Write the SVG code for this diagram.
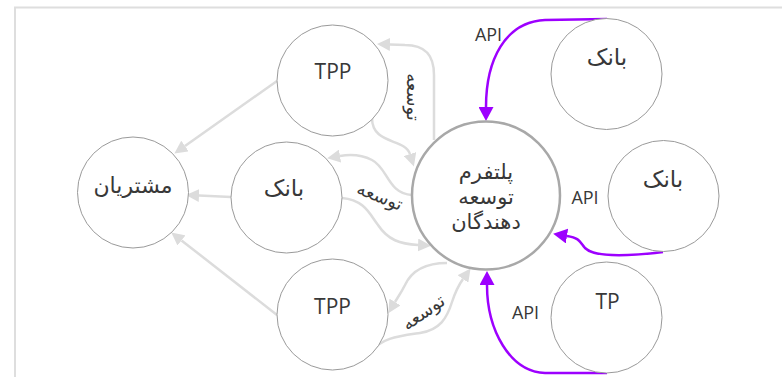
<svg xmlns="http://www.w3.org/2000/svg" width="782" height="377" viewBox="0 0 782 377">
  <style>
    .node { fill: #fff; stroke: #9a9a9a; stroke-width: 1; }
    .hub { fill: #fff; stroke: #a8a8a8; stroke-width: 2.5; }
    .lbl { font-family: "Open Sans", "Noto Sans", sans-serif; fill: #383838; text-anchor: middle; }
    .fa { font-family: "DejaVu Sans", "Noto Sans", sans-serif; fill: #383838; text-anchor: middle; dominant-baseline: central; }
    .gray { fill: none; stroke: #dcdcdc; stroke-width: 2.5; marker-end: url(#ag); }
    .api { fill: none; stroke: #9d00ff; stroke-width: 2.5; marker-end: url(#ap); }
  </style>
  <defs>
    <marker id="ag" markerUnits="userSpaceOnUse" markerWidth="13" markerHeight="13" refX="0" refY="6.5" orient="auto" viewBox="0 0 13 13">
      <path d="M0,0 L13,6.5 L0,13 z" fill="#dcdcdc"/>
    </marker>
    <marker id="ap" markerUnits="userSpaceOnUse" markerWidth="14" markerHeight="15" refX="0" refY="7.5" orient="auto" viewBox="0 0 14 15">
      <path d="M0,0 L14,7.5 L0,15 z" fill="#9d00ff"/>
    </marker>
  </defs>

  <!-- frame -->
  <path d="M15,380 L15,7.5 L790,7.5" fill="none" stroke="#dedede" stroke-width="2"/>

  <!-- connectors -->
  <g id="connectors">
    <path class="gray" d="M277,81 L185,146"/>
    <path class="gray" d="M231,197 L199,195.5"/>
    <path class="gray" d="M277,315 L181.5,240.4"/>
    <path class="gray" d="M434,140 L434,75 C434,55 425,45 405,45 L390,44.5"/>
    <path class="gray" d="M372,118 C372,145 405,138 410,154"/>
    <path class="gray" d="M412,195 C388,194 388,168 372,160 C362,155 352,154 340,156"/>
    <path class="gray" d="M342,198 C365,200 370,215 378,225 C388,240 400,244 418,245"/>
    <path class="gray" d="M447,263 C425,263 412,270 405,285 C401,293 398,297 395,302"/>
    <path class="gray" d="M372,352 C380,338 400,336 420,333 C440,330 447,318 452,302 C455,293 458,286 463,279"/>
    <path class="api" d="M607,19 L545,20 C505,22 486,60 486,107"/>
    <path class="api" d="M663,252 C630,256 595,258 585,248 C580,242 580,238 567,236"/>
    <path class="api" d="M607,373 L545,373 C510,372 487,330 487,285"/>
    <text class="fa" font-size="18" transform="translate(413,97) rotate(90)">توسعه</text>
    <text class="fa" font-size="18" transform="translate(380,196) rotate(22)">توسعه</text>
    <text class="fa" font-size="18" transform="translate(423,312) rotate(-35)">توسعه</text>
    <text class="lbl" font-size="18" x="488.5" y="41">API</text>
    <text class="lbl" font-size="18" x="585" y="204">API</text>
    <text class="lbl" font-size="18" x="525.5" y="319">API</text>
  </g>

  <g id="customers">
    <circle class="node" cx="133" cy="192.5" r="55.5"/>
    <text class="fa" font-size="22" x="133" y="185">مشتریان</text>
  </g>
  <g id="bank-left">
    <circle class="node" cx="286.5" cy="197.5" r="55.5"/>
    <text class="fa" font-size="23" x="284" y="188">بانک</text>
  </g>
  <g id="tpp-top">
    <circle class="node" cx="332.5" cy="80.5" r="55.5"/>
    <text class="lbl" font-size="21" x="333" y="79">TPP</text>
  </g>
  <g id="tpp-bottom">
    <circle class="node" cx="332.5" cy="314.5" r="55.5"/>
    <text class="lbl" font-size="21" x="332.5" y="314">TPP</text>
  </g>
  <g id="platform">
    <circle class="hub" cx="486" cy="195.5" r="74"/>
    <text class="fa" font-size="21" x="486" y="172">پلتفرم</text>
    <text class="fa" font-size="21" x="486" y="197">توسعه</text>
    <text class="fa" font-size="21" x="486" y="222">دهندگان</text>
  </g>
  <g id="bank-top">
    <circle class="node" cx="606.5" cy="74" r="55.5"/>
    <text class="fa" font-size="23" x="607" y="57">بانک</text>
  </g>
  <g id="bank-mid">
    <circle class="node" cx="663.5" cy="196" r="55.5"/>
    <text class="fa" font-size="23" x="663" y="179">بانک</text>
  </g>
  <g id="tp">
    <circle class="node" cx="606.5" cy="317.5" r="55.5"/>
    <text class="lbl" font-size="21" x="607.5" y="309">TP</text>
  </g>
</svg>
